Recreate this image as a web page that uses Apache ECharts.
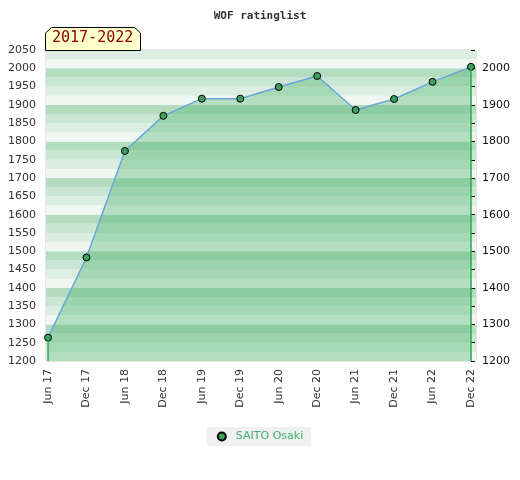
<!DOCTYPE html>
<html>
<head>
<meta charset="utf-8">
<script src="https://cdn.jsdelivr.net/npm/echarts@6/dist/echarts.min.js"></script>
<style>html,body{margin:0;padding:0;background:#fff}#c{width:520px;height:480px}</style>
</head>
<body>
<div id="c"></div>
<script>
const categories = ['Jun 17','Dec 17','Jun 18','Dec 18','Jun 19','Dec 19','Jun 20','Dec 20','Jun 21','Dec 21','Jun 22','Dec 22'];
const ratings = [1264, 1483, 1774, 1870, 1917, 1917, 1949, 1979, 1886, 1916, 1963, 2004];
const seriesName = 'SAITO Osaki';
const titleText = 'WOF ratinglist';
const periodText = '2017-2022';
const yMin = 1200, yMax = 2050;

const chart = echarts.init(document.getElementById('c'));
const font = 'DejaVu Sans';
chart.setOption({
  animation: false,
  title: {
    text: titleText, left: 'center', top: 6,
    textStyle: { fontFamily: 'DejaVu Sans Mono', fontWeight: 'bold', fontSize: 11, color: '#333' }
  },
  legend: {
    data: [{ name: seriesName, icon: 'circle' }],
    left: 'center', top: 427, itemWidth: 8, itemHeight: 8, itemGap: 6,
    padding: [4, 8, 4, 10], backgroundColor: '#f0f0f0',
    textStyle: { color: '#3cb371', fontFamily: font, fontSize: 11, padding: [0, 0, 0, 5] }
  },
  grid: [
    { left: 46, right: 44, top: 50, bottom: 119, show: true, borderColor: '#cccccc', borderWidth: 1, backgroundColor: 'transparent' },
    { left: 48, right: 49, top: 50, bottom: 119 }
  ],
  xAxis: [
    { gridIndex: 0, type: 'value', show: false, min: 0, max: 1 },
    {
      gridIndex: 1, type: 'category', data: categories, boundaryGap: false,
      axisLine: { show: false }, axisTick: { show: false },
      axisLabel: { rotate: 90, margin: 8, interval: 0, color: '#333', fontFamily: font, fontSize: 11 }
    }
  ],
  yAxis: [
    {
      gridIndex: 0, type: 'value', min: yMin, max: yMax, interval: 25,
      axisLabel: { show: false }, axisLine: { show: false }, axisTick: { show: false },
      splitLine: { show: false },
      splitArea: { show: true, areaStyle: { color: ['#f0f7f2', '#dbeee1', '#c9e6d3', '#b3dcc0'] } }
    },
    {
      gridIndex: 1, type: 'value', position: 'left', min: yMin, max: yMax, interval: 50,
      axisLine: { show: false }, axisTick: { show: false }, splitLine: { show: false },
      axisLabel: { margin: 12, color: '#333', fontFamily: font, fontSize: 11, formatter: v => String(v) }
    },
    {
      gridIndex: 1, type: 'value', position: 'right', min: yMin, max: yMax, interval: 50,
      axisLine: { show: false }, splitLine: { show: false },
      axisTick: { show: true, length: 4, lineStyle: { color: '#000' } },
      axisLabel: {
        margin: 11, color: '#111', fontFamily: font, fontSize: 11,
        formatter: v => (v % 100 === 0 ? String(v) : '')
      }
    }
  ],
  graphic: [
    {
      type: 'polygon', z: 100,
      shape: { points: [[45.5, 33], [51.5, 27.5], [134.5, 27.5], [140.5, 33], [140.5, 50.5], [45.5, 50.5]] },
      style: { fill: '#ffffcc', stroke: '#000', lineWidth: 1 }
    },
    {
      type: 'text', z: 101, left: 52, top: 31,
      style: { text: periodText, fill: '#8b0000', font: '15px "DejaVu Sans Mono"' }
    }
  ],
  series: [{
    name: seriesName, type: 'line', xAxisIndex: 1, yAxisIndex: 1,
    data: ratings,
    symbol: 'circle', symbolSize: 7,
    itemStyle: { color: '#3c9f5c', borderColor: '#000', borderWidth: 1 },
    lineStyle: { color: '#6aa5db', width: 1.5 },
    areaStyle: { color: 'rgba(68,175,102,0.5)', origin: 'start' },
    markLine: {
      silent: true, symbol: 'none', label: { show: false },
      lineStyle: { color: '#2ea84f', width: 1.5, type: 'solid' },
      data: [
        [{ coord: [categories[0], yMin] }, { coord: [categories[0], ratings[0]] }],
        [{ coord: [categories[categories.length - 1], yMin] }, { coord: [categories[categories.length - 1], ratings[ratings.length - 1]] }]
      ]
    }
  }]
});
</script>
</body>
</html>
